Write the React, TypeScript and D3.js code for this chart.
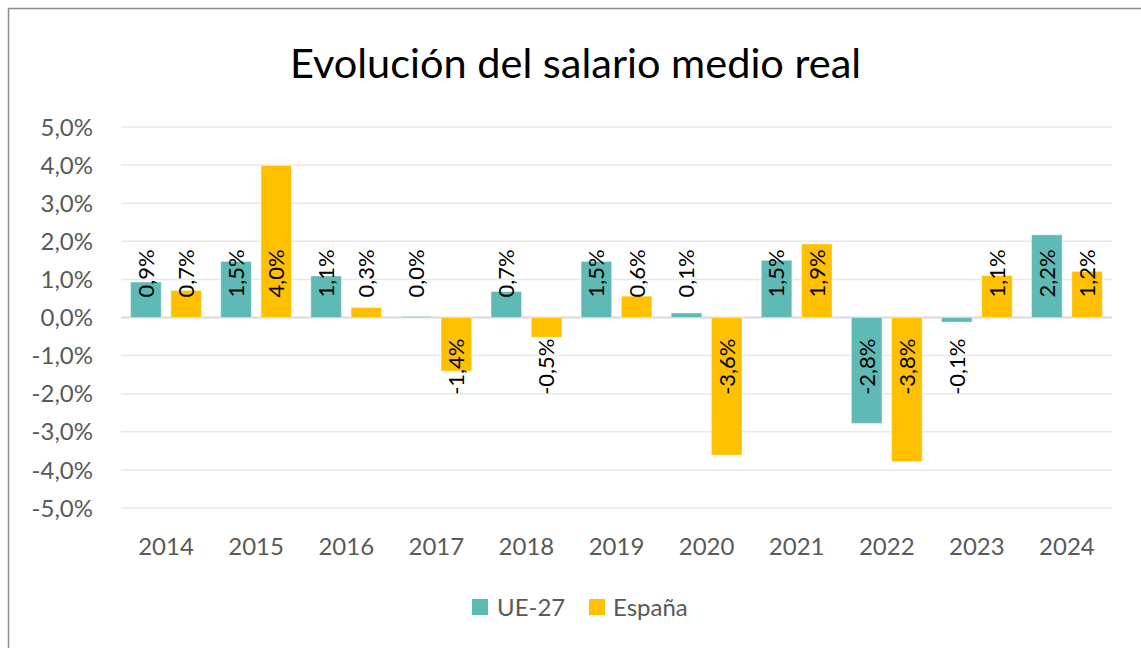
import React from "react";
import * as d3 from "d3";

const years = ["2014","2015","2016","2017","2018","2019","2020","2021","2022","2023","2024"];
const ue27 = [0.93, 1.47, 1.09, 0.03, 0.68, 1.47, 0.12, 1.5, -2.78, -0.12, 2.17];
const espana = [0.71, 3.99, 0.26, -1.41, -0.52, 0.56, -3.61, 1.93, -3.78, 1.1, 1.21];
const yTicks = [5, 4, 3, 2, 1, 0, -1, -2, -3, -4, -5];
const seriesNames = ["UE-27", "España"];
const colors = ["#5FB9B4", "#FFC000"];

const W = 1141, H = 648;
const FONT = "Lato, 'Open Sans', sans-serif";

const fmt = (v: number) => v.toFixed(1).replace(".", ",") + "%";

export default function App() {
  const left = 121, right = 1112, top = 127, bottom = 508;
  const x = d3.scaleBand<string>().domain(years).range([left, right]).paddingInner(0).paddingOuter(0);
  const x1 = d3.scaleBand<string>().domain(seriesNames).range([0, x.bandwidth()]).paddingInner(0.24).paddingOuter(0.24);
  const y = d3.scaleLinear().domain([-5, 5]).range([bottom, top]);
  const series = [ue27, espana];
  const y0 = y(0);

  return (
    <svg width={W} height={H} style={{ position: "absolute", left: 0, top: 0, background: "#fff" }}>
      <rect x={0} y={0} width={W} height={H} fill="#fff" />
      <rect x={8.5} y={8.5} width={1135} height={660} fill="#fff" stroke="#8c8c8c" strokeWidth={1.5} />
      <text x={575.5} y={78} textAnchor="middle" fontFamily={FONT} fontSize={41.5} fill="#000">
        Evolución del salario medio real
      </text>
      {yTicks.map((t) => (
        <g key={t}>
          <line x1={left} x2={right} y1={y(t)} y2={y(t)} stroke={t === 0 ? "#d9d9d9" : "#e8e8e8"} strokeWidth={t === 0 ? 2 : 1.5} />
          <text x={93} y={y(t)} dy="0.36em" textAnchor="end" fontFamily={FONT} fontSize={24} fill="#595959">
            {fmt(t)}
          </text>
        </g>
      ))}
      {series.map((vals, si) =>
        vals.map((v, i) => {
          const bx = (x(years[i]) as number) + (x1(seriesNames[si]) as number);
          const bw = x1.bandwidth();
          const yv = y(v);
          return (
            <rect key={`${si}-${i}`} x={bx} y={Math.min(yv, y0)} width={bw} height={Math.abs(yv - y0)}
              fill={colors[si]} stroke="#ffffff" strokeOpacity={0.4} strokeWidth={1} />
          );
        })
      )}
      {series.map((vals, si) =>
        vals.map((v, i) => {
          const cx = (x(years[i]) as number) + (x1(seriesNames[si]) as number) + x1.bandwidth() / 2;
          const pos = v >= 0;
          const ly = pos ? y0 - 20 : y0 + 21;
          return (
            <text key={`l-${si}-${i}`} transform={`translate(${cx},${ly}) rotate(-90)`}
              textAnchor={pos ? "start" : "end"} dy="0.36em" fontFamily={FONT} fontSize={22} fill="#000">
              {fmt(v)}
            </text>
          );
        })
      )}
      {years.map((yr) => (
        <text key={yr} x={(x(yr) as number) + x.bandwidth() / 2} y={555} textAnchor="middle" fontFamily={FONT} fontSize={24} fill="#595959">
          {yr}
        </text>
      ))}
      <rect x={472} y={599} width={16} height={16} fill={colors[0]} />
      <text x={497} y={616} fontFamily={FONT} fontSize={24} fill="#595959">{seriesNames[0]}</text>
      <rect x={589} y={599} width={16} height={16} fill={colors[1]} />
      <text x={613} y={616} fontFamily={FONT} fontSize={24} fill="#595959">{seriesNames[1]}</text>
    </svg>
  );
}
